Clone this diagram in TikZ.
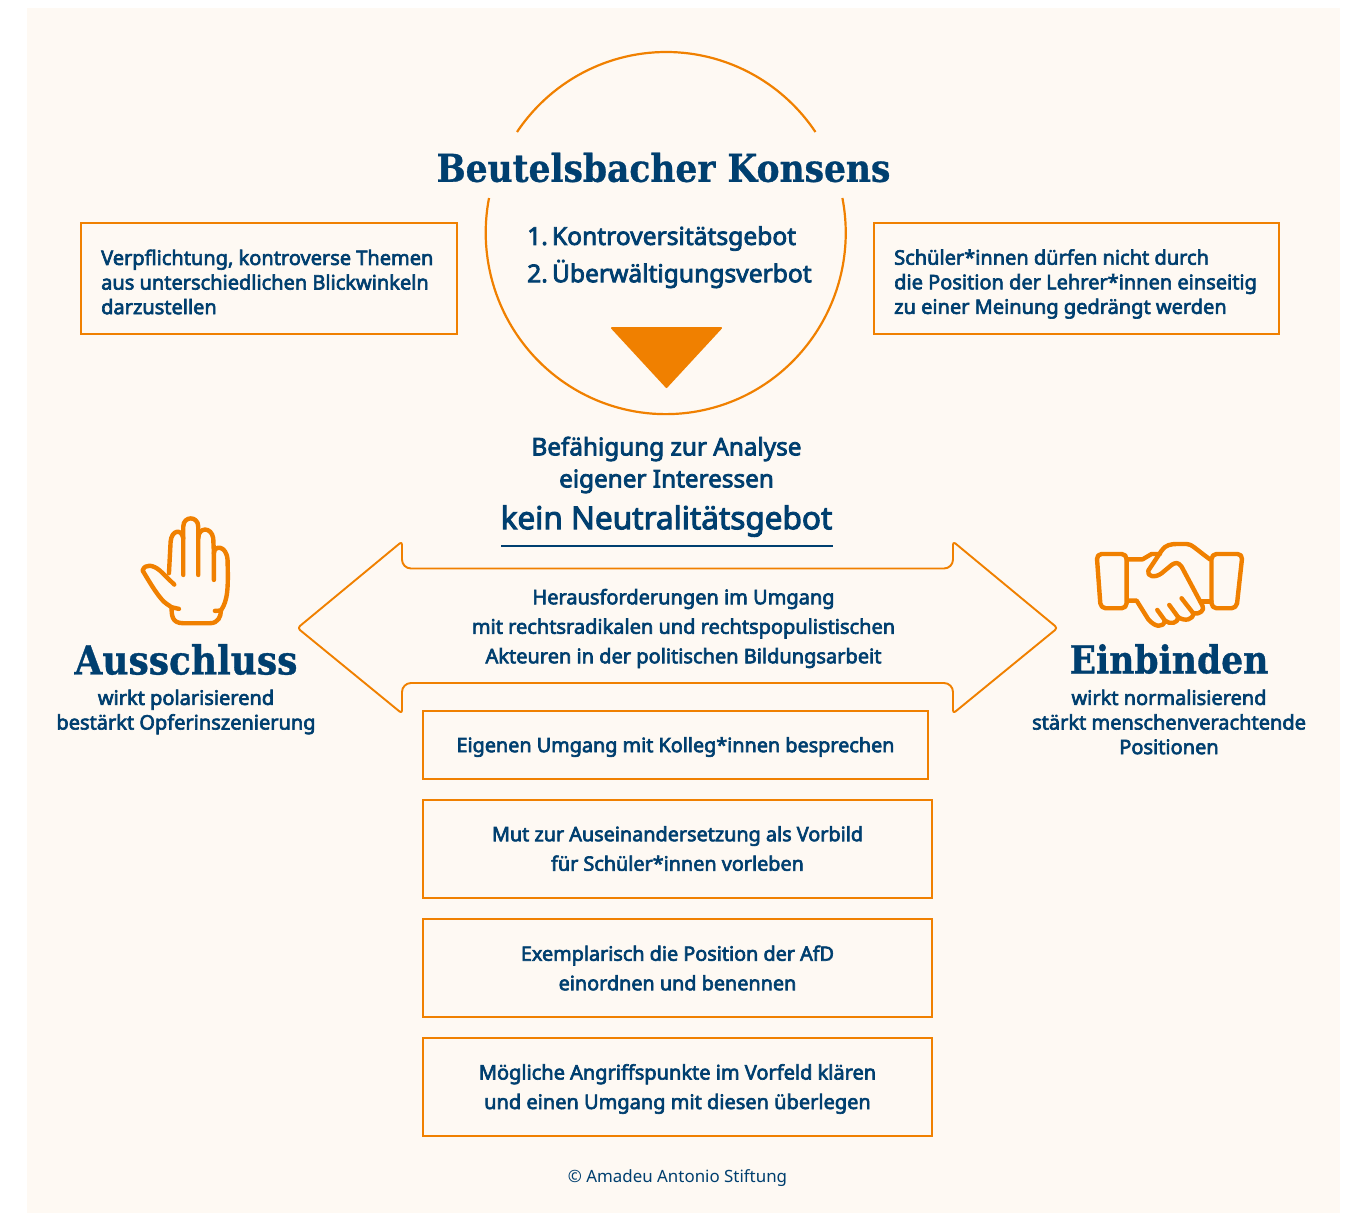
\documentclass[tikz,border=0pt]{standalone}
\usepackage{fontspec}
\setmainfont{Noto Sans}[BoldFont={Noto Sans}, BoldFeatures={FakeBold=3.2}]
\newfontfamily\slabfont{DejaVu Serif Condensed}[BoldFeatures={FakeBold=0.8}]
\definecolor{creme}{HTML}{FEF9F3}
\definecolor{konsorange}{HTML}{F08000}
\definecolor{konsblue}{HTML}{003F6F}
\tikzset{
  outline/.style={draw=konsorange, line width=2.2pt},
  icon/.style={draw=konsorange, line width=4.4pt, line cap=round, line join=round},
  txt/.style={text=konsblue, font=\bfseries\fontsize{20}{24.6}\selectfont, align=center, inner sep=0pt},
  boxtxt/.style={txt, font=\bfseries\fontsize{19.8}{29.5}\selectfont},
  lefttxt/.style={txt, align=left, anchor=west},
  bigname/.style={text=konsblue, font=\slabfont\bfseries\fontsize{39}{44}\selectfont, inner sep=0pt}
}
\begin{document}
\begin{tikzpicture}[x=1pt, y=-1pt]
  \useasboundingbox (0,0) rectangle (1354,1213);
  \fill[white] (0,0) rectangle (1354,1213);
  \fill[creme] (27,8) rectangle (1340,1213);

  % circle with a gap behind the title
  \draw[outline] (517,132) arc[start angle=-146, end angle=-34, x radius=180, y radius=181.5];
  \draw[outline] (842.4,198) arc[start angle=-11, end angle=191, x radius=180, y radius=181.5];
  \fill[konsorange, draw=konsorange, line join=round, line width=2pt] (612,328) -- (721,328) -- (666.5,387) -- cycle;

  \node[bigname, font=\slabfont\bfseries\fontsize{38.3}{44}\selectfont] (title) at (663.5,167.5) {Beutelsbacher Konsens};
  \node[lefttxt, font=\bfseries\fontsize{24.6}{30}\selectfont] (gebot1) at (527,238.5) {1.\,Kontroversitätsgebot};
  \node[lefttxt, font=\bfseries\fontsize{24.6}{30}\selectfont] (gebot2) at (527,274) {2.\,Überwältigungsverbot};

  % side boxes
  \draw[outline] (81,223) rectangle (457,334);
  \draw[outline] (874,223) rectangle (1279,334);
  \node[lefttxt] (leftbox) at (101,282) {Verpflichtung, kontroverse Themen\\aus unterschiedlichen Blickwinkeln\\darzustellen};
  \node[lefttxt] (rightbox) at (894,284) {Schüler*innen dürfen nicht durch\\die Position der Lehrer*innen einseitig\\zu einer Meinung gedrängt werden};

  \node[txt, font=\bfseries\fontsize{24.3}{32}\selectfont] (analyse) at (666.5,465) {Befähigung zur Analyse\\eigener Interessen};
  \node[txt, font=\bfseries\fontsize{31.5}{36}\selectfont] (neutral) at (666.5,521) {kein Neutralitätsgebot};
  \draw[konsblue, line width=2pt] (501,545.5) -- (833,545.5);

  % double arrow
  \draw[outline, line width=1.9pt, line join=round, rounded corners=3pt] (297.5,628) -- (402,541.5)
    [rounded corners=9pt] -- (402,568.5) -- (953,568.5)
    [rounded corners=3pt] -- (953,541.5) -- (1057.5,628) -- (953,713.5)
    [rounded corners=9pt] -- (953,683) -- (402,683)
    [rounded corners=3pt] -- (402,713.5) -- cycle;
  \node[txt, font=\bfseries\fontsize{20}{29.5}\selectfont] (herausf) at (683.5,628.5) {Herausforderungen im Umgang\\mit rechtsradikalen und rechtspopulistischen\\Akteuren in der politischen Bildungsarbeit};

  % left side
  \begin{scope}[shift={(120,500)}, x=0.333pt, y=-0.333pt]
    \draw[icon] (163,254) -- (120,212) .. controls (100,195) and (75,190) .. (68,212)
      .. controls (85,240) and (105,275) .. (125,298) .. controls (135,310) and (145,315) .. (155,322) -- (177,327);
    \draw[icon] (155,322) .. controls (155,345) and (155,370) .. (190,370) -- (270,370)
      .. controls (295,370) and (303,350) .. (303,332) -- (285,333);
    \draw[icon] (303,332) .. controls (325,300) and (325,260) .. (323,180)
      .. controls (320,135) and (282,135) .. (282,160) -- (282,240);
    \draw[icon] (282,160) -- (280,115) .. controls (275,80) and (235,80) .. (235,115);
    \draw[icon] (235,225) -- (235,80) .. controls (235,47) and (190,47) .. (190,80) -- (190,225);
    \draw[icon] (190,115) .. controls (185,85) and (155,90) .. (152,125) -- (147,220);
  \end{scope}
  \node[bigname, font=\slabfont\bfseries\fontsize{40}{44}\selectfont] (ausschluss) at (186,659.5) {Ausschluss};
  \node[txt] (auss) at (186,712) {wirkt polarisierend\\bestärkt Opferinszenierung};

  % right side
  \begin{scope}[shift={(1080,530)}, x=0.333pt, y=-0.333pt]
    \draw[icon, rounded corners=5pt] (50,72) -- (140,72) -- (140,235) -- (62,235) -- cycle;
    \draw[icon, rounded corners=5pt] (395,72) -- (488,72) -- (470,235) -- (395,235) -- cycle;
    \draw[icon] (140,88) -- (188,88) -- (215,72) -- (240,72);
    \draw[icon] (145,212) -- (170,212) -- (205,268) .. controls (225,292) and (250,295) .. (255,272)
      .. controls (270,285) and (295,280) .. (295,262) .. controls (315,275) and (340,270) .. (340,250)
      .. controls (360,255) and (375,240) .. (368,228) -- (305,110) .. controls (295,95) and (285,98) .. (275,105)
      -- (245,130) .. controls (225,145) and (200,140) .. (205,122) -- (245,62)
      .. controls (255,45) and (275,42) .. (290,42) -- (320,42) .. controls (335,42) and (345,55) .. (390,88);
    \draw[icon] (232,240) -- (255,272);
    \draw[icon] (268,225) -- (295,262);
    \draw[icon] (305,205) -- (340,250);
    \draw[icon] (362,215) -- (395,215);
  \end{scope}
  \node[bigname, font=\slabfont\bfseries\fontsize{38.5}{44}\selectfont] (einbinden) at (1169,659) {Einbinden};
  \node[txt] (einb) at (1169,722) {wirkt normalisierend\\stärkt menschenverachtende\\Positionen};

  % centre boxes
  \draw[outline] (423,711) rectangle (928,779);
  \draw[outline] (423,800) rectangle (932,898);
  \draw[outline] (423,919) rectangle (932,1017);
  \draw[outline] (423,1038) rectangle (932,1136);
  \node[boxtxt] (kolleg) at (675.5,747) {Eigenen Umgang mit Kolleg*innen besprechen};
  \node[boxtxt] (vorbild) at (677.5,848.5) {Mut zur Auseinandersetzung als Vorbild\\für Schüler*innen vorleben};
  \node[boxtxt] (afd) at (677.5,968) {Exemplarisch die Position der AfD\\einordnen und benennen};
  \node[txt, font=\bfseries\fontsize{20}{29.5}\selectfont] (angriff) at (677.5,1089) {Mögliche Angriffspunkte im Vorfeld klären\\und einen Umgang mit diesen überlegen};

  \node[text=konsblue, font=\fontsize{16.9}{22}\selectfont, inner sep=0pt] (copy) at (677.5,1178) {© Amadeu Antonio Stiftung};
\end{tikzpicture}
\end{document}
